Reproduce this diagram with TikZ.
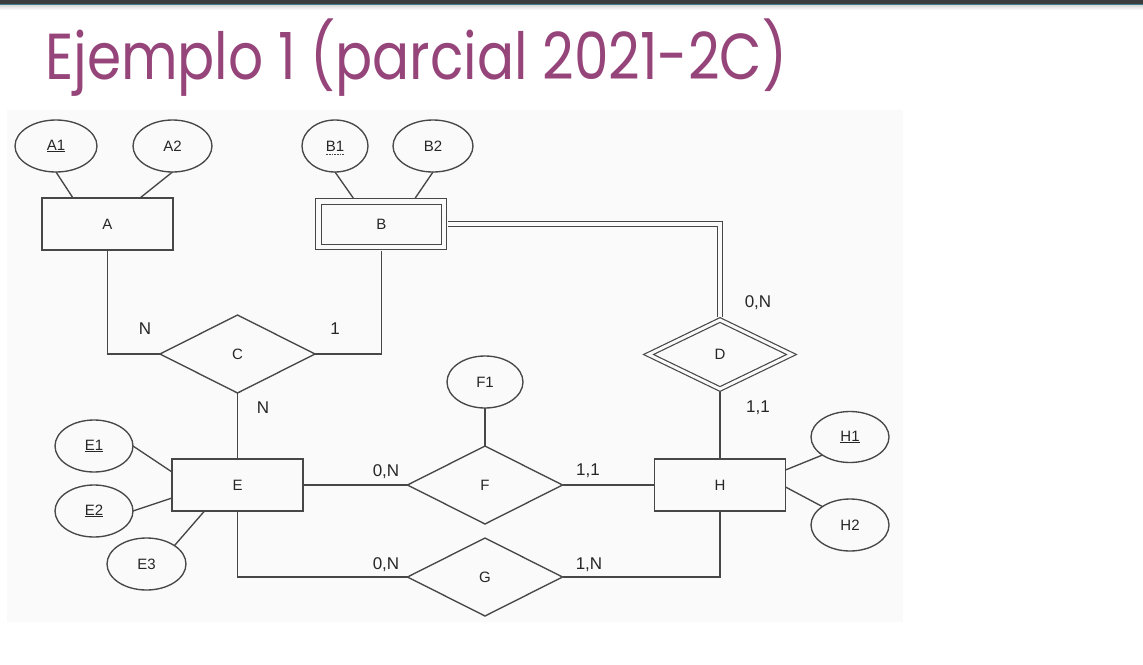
\documentclass[tikz,border=0pt]{standalone}
\usepackage{fontspec}
\usepackage{graphicx}
\usetikzlibrary{shapes.geometric}
\newfontfamily\titlefont{Poppins}
\newfontfamily\diagfont{Liberation Sans}
\definecolor{titlecol}{HTML}{96457A}
\definecolor{inkcol}{HTML}{474747}
\definecolor{txtcol}{HTML}{262626}
\definecolor{panelcol}{HTML}{FAFAFA}
\definecolor{barcol}{HTML}{3A3B3D}
\definecolor{tealcol}{HTML}{3F7D88}

\tikzset{
  link/.style={draw=inkcol, line width=1.35pt},
  dlink/.style={draw=inkcol, line width=1.2pt, double=panelcol, double distance=3.6pt, line join=miter},
  label text/.style={text=txtcol, font=\diagfont\fontsize{15}{15}\selectfont},
  attr/.style={ellipse, draw=inkcol, line width=1.35pt, fill=panelcol, inner sep=0pt, outer sep=0pt,
    minimum width=#1, minimum height=52pt, label text},
  attr/.default=78pt,
  entity/.style={rectangle, draw=inkcol, line width=1.35pt, fill=panelcol, inner sep=0pt, outer sep=0pt,
    minimum width=131pt, minimum height=52pt, label text},
  weakentity/.style={entity, line width=1.2pt, double=panelcol, double distance=4.3pt,
    minimum width=125.5pt, minimum height=45.5pt},
  rel/.style={diamond, draw=inkcol, line width=1.35pt, fill=panelcol, inner sep=0pt, outer sep=0pt,
    minimum width=155pt, minimum height=78pt, label text},
  weakrel/.style={rel, line width=1.2pt, double=panelcol, double distance=3pt,
    minimum width=143pt, minimum height=69pt},
  card/.style={inner sep=0pt, text=txtcol, font=\diagfont\fontsize{17}{17}\selectfont}
}

\begin{document}
\begin{tikzpicture}[x=1pt,y=-1pt]
  \useasboundingbox (0,0) rectangle (1143,664);
  \fill[white] (0,0) rectangle (1143,664);

  % slide header bar
  \fill[barcol] (0,0) rectangle (1143,3.5);
  \fill[tealcol] (0,3.5) rectangle (1143,5.5);
  \shade[top color=black!14, bottom color=white] (0,5.5) rectangle (1143,10);

  % slide title
  \node[anchor=base west, inner sep=0pt, text=titlecol, font=\titlefont\fontsize{65}{65}\selectfont]
    (title) at (45,79) {\resizebox{742pt}{\height}{Ejemplo 1 (parcial 2021-2C)}};

  % panel behind the diagram
  \fill[panelcol] (7,110) rectangle (903,622);

  % entities
  \node[entity] (A) at (107.5,224) {A};
  \node[weakentity] (B) at (381.25,224.25) {B};
  \node[entity] (E) at (237.5,485) {E};
  \node[entity] (H) at (720,485) {H};

  % relationships
  \node[rel] (C) at (237.5,354) {C};
  \node[weakrel] (D) at (720,354.5) {D};
  \node[rel] (F) at (485,485) {F};
  \node[rel] (G) at (485,577) {G};

  % attributes
  \node[attr=82pt] (A1) at (56,146) {\underline{A1}};
  \node[attr=79pt] (A2) at (172.5,146) {A2};
  \node[attr=66pt] (B1) at (335,146) {B1};
  \node[attr=80pt] (B2) at (433,146) {B2};
  \node[attr] (E1) at (94,446) {\underline{E1}};
  \node[attr] (E2) at (94,511) {\underline{E2}};
  \node[attr=79pt] (E3) at (146.5,564) {E3};
  \node[attr=76pt] (F1) at (485,382) {F1};
  \node[attr=78pt, minimum height=51pt] (H1) at (850,437) {\underline{H1}};
  \node[attr=78pt] (H2) at (850,525) {H2};

  % partial key mark under B1
  \draw[inkcol, line width=0.6pt, dash pattern=on 1pt off 0.6pt]
    ([xshift=-9.5pt,yshift=-8.5pt]B1.center) -- ([xshift=9.5pt,yshift=-8.5pt]B1.center);

  % attribute links
  \draw[link] (A1.south) -- ([xshift=-34.5pt]A.north);
  \draw[link] (A2.south) -- ([xshift=32.5pt]A.north);
  \draw[link] (B1.south) -- ([xshift=-28pt,yshift=3.5pt]B.north);
  \draw[link] (B2.south) -- ([xshift=34pt,yshift=3.5pt]B.north);
  \draw[link] (E1.east) -- ([yshift=13pt]E.west);
  \draw[link] (E2.east) -- ([yshift=-13pt]E.west);
  \draw[link] (E3.north east) -- ([xshift=-33pt]E.south);
  \draw[link] (F1.south) -- (F.north);
  \draw[link] ([yshift=15pt]H.east) -- (H1.south west);
  \draw[link] ([yshift=-2pt]H.east) -- (H2.north west);

  % relationship links
  \draw[link] (A.south) |- (C.west);
  \draw[link] ([yshift=-3.5pt]B.south) |- (C.east);
  \draw[link] (C.south) -- (E.north);
  \draw[dlink] ([xshift=3.5pt]B.east) -| ([yshift=3pt]D.north);
  \draw[link] ([yshift=-3pt]D.south) -- (H.north);
  \draw[link] (E.east) -- (F.west);
  \draw[link] (F.east) -- (H.west);
  \draw[link] (E.south) |- (G.west);
  \draw[link] (H.south) |- (G.east);

  % cardinalities
  \node[card] (cAC) at (145,329) {N};
  \node[card] (cBC) at (335,329) {1};
  \node[card] (cCE) at (263,408) {N};
  \node[card] (cBD) at (758,303) {0,N};
  \node[card] (cDH) at (758,408) {1,1};
  \node[card] (cEF) at (386,472) {0,N};
  \node[card] (cFH) at (588,471) {1,1};
  \node[card] (cEG) at (386,565) {0,N};
  \node[card] (cGH) at (589,565) {1,N};
\end{tikzpicture}
\end{document}
